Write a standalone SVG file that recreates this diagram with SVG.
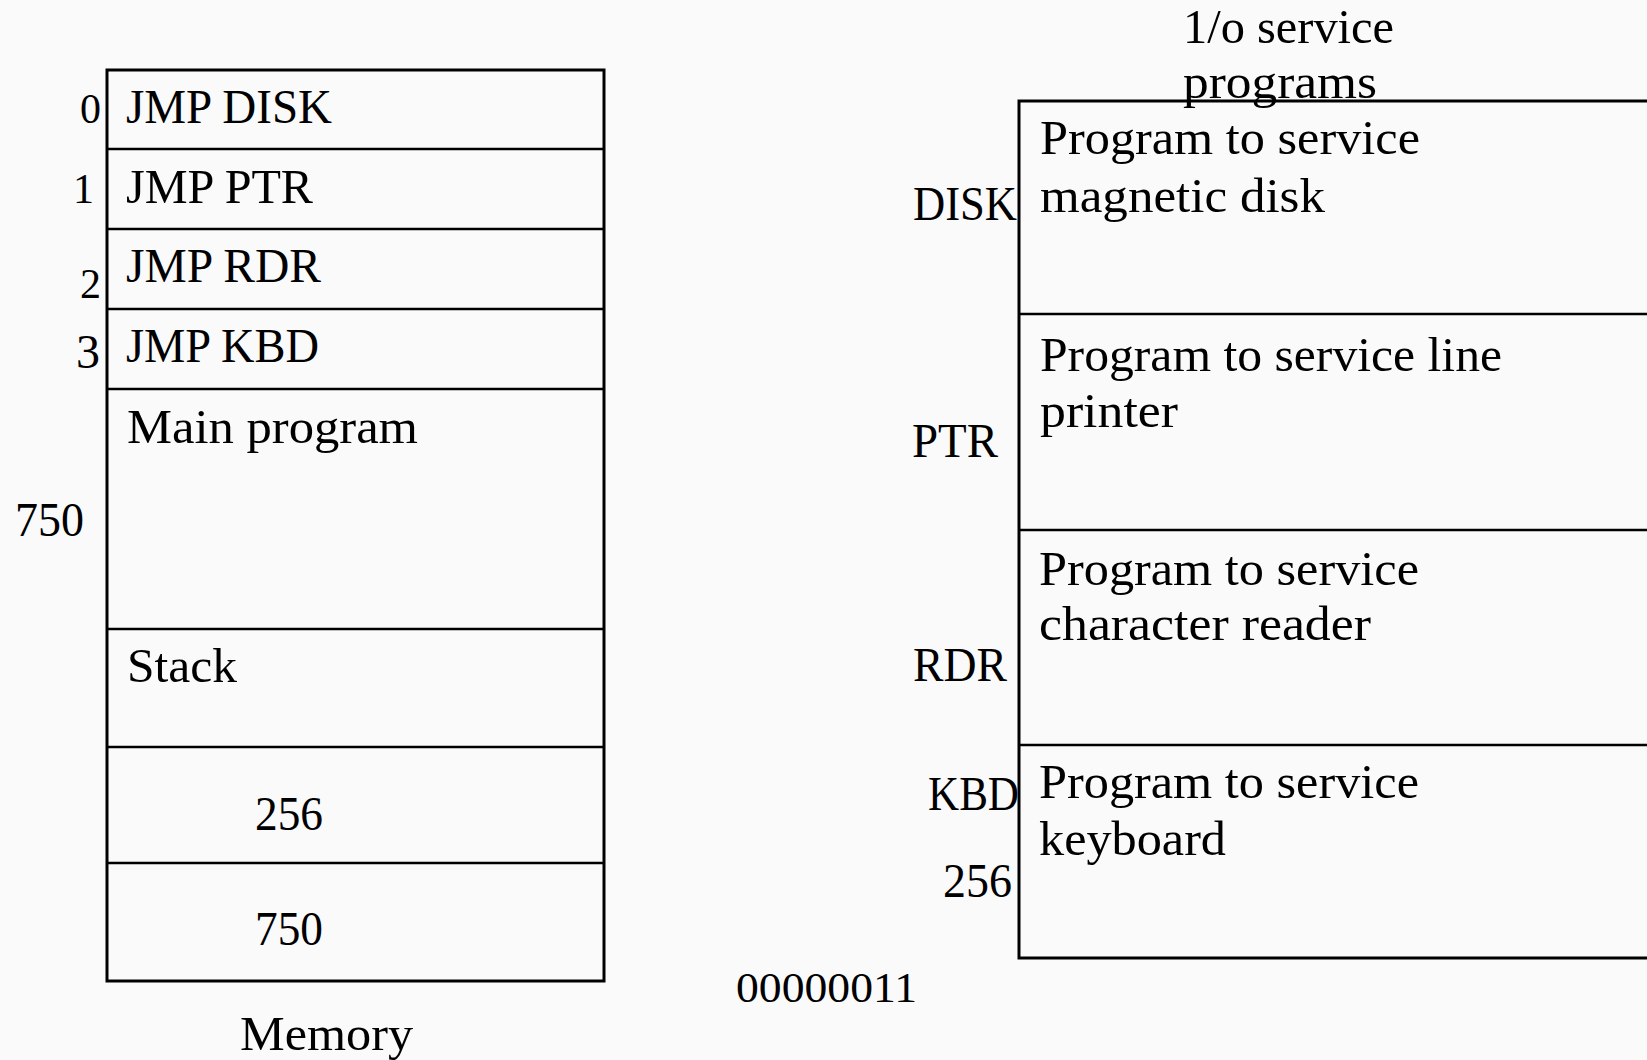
<svg xmlns="http://www.w3.org/2000/svg" width="1647" height="1060" viewBox="0 0 1647 1060">
  <style>
    .bg { fill: #fafafa; }
    .box { fill: none; stroke: #000; stroke-width: 3; }
    .div { stroke: #000; stroke-width: 2.6; }
    text { font-family: "Liberation Serif", "DejaVu Serif", serif; font-size: 48px; fill: #000; }
    .num { font-size: 42px; }
    .end { text-anchor: end; }
  </style>
  <rect class="bg" x="0" y="0" width="1647" height="1060"/>

  <!-- Memory map: vector table, main program and stack -->
  <g id="memory">
    <rect class="box" x="107" y="70" width="497" height="911"/>
    <line class="div" x1="107" y1="149" x2="604" y2="149"/>
    <line class="div" x1="107" y1="229" x2="604" y2="229"/>
    <line class="div" x1="107" y1="309" x2="604" y2="309"/>
    <line class="div" x1="107" y1="389" x2="604" y2="389"/>
    <line class="div" x1="107" y1="629" x2="604" y2="629"/>
    <line class="div" x1="107" y1="747" x2="604" y2="747"/>
    <line class="div" x1="107" y1="863" x2="604" y2="863"/>
  </g>
  <g id="vector-0">
    <text class="num end" x="101" y="123">0</text>
    <text x="126" y="123" textLength="206" lengthAdjust="spacingAndGlyphs">JMP DISK</text>
  </g>
  <g id="vector-1">
    <text class="num end" x="94" y="203">1</text>
    <text x="126" y="203" textLength="187" lengthAdjust="spacingAndGlyphs">JMP PTR</text>
  </g>
  <g id="vector-2">
    <text class="num end" x="101" y="298">2</text>
    <text x="126" y="282" textLength="195" lengthAdjust="spacingAndGlyphs">JMP RDR</text>
  </g>
  <g id="vector-3">
    <text class="end" x="100" y="368">3</text>
    <text x="126" y="362" textLength="193" lengthAdjust="spacingAndGlyphs">JMP KBD</text>
  </g>
  <g id="main-program">
    <text x="127" y="443" textLength="291" lengthAdjust="spacingAndGlyphs">Main program</text>
    <text x="15" y="536" textLength="69" lengthAdjust="spacingAndGlyphs">750</text>
  </g>
  <g id="stack">
    <text x="127" y="682" textLength="110" lengthAdjust="spacingAndGlyphs">Stack</text>
  </g>
  <g id="cell-256">
    <text x="255" y="830" textLength="68" lengthAdjust="spacingAndGlyphs">256</text>
  </g>
  <g id="cell-750">
    <text x="255" y="945" textLength="68" lengthAdjust="spacingAndGlyphs">750</text>
  </g>
  <g id="memory-label">
    <text x="240" y="1050" textLength="173" lengthAdjust="spacingAndGlyphs">Memory</text>
  </g>

  <!-- I/O service programs -->
  <g id="service-programs">
    <rect class="box" x="1019" y="101" width="700" height="857"/>
    <line class="div" x1="1019" y1="314" x2="1700" y2="314"/>
    <line class="div" x1="1019" y1="530" x2="1700" y2="530"/>
    <line class="div" x1="1019" y1="745" x2="1700" y2="745"/>
    <text x="1183" y="43" textLength="211" lengthAdjust="spacingAndGlyphs">1/o service</text>
    <text x="1183" y="98" textLength="194" lengthAdjust="spacingAndGlyphs">programs</text>
  </g>
  <g id="disk-service">
    <text class="end" x="1017" y="220" textLength="104" lengthAdjust="spacingAndGlyphs">DISK</text>
    <text x="1040" y="154" textLength="380" lengthAdjust="spacingAndGlyphs">Program to service</text>
    <text x="1040" y="212" textLength="285" lengthAdjust="spacingAndGlyphs">magnetic disk</text>
  </g>
  <g id="printer-service">
    <text x="912" y="457" textLength="86" lengthAdjust="spacingAndGlyphs">PTR</text>
    <text x="1040" y="371" textLength="462" lengthAdjust="spacingAndGlyphs">Program to service line</text>
    <text x="1040" y="427" textLength="138" lengthAdjust="spacingAndGlyphs">printer</text>
  </g>
  <g id="reader-service">
    <text x="913" y="681" textLength="94" lengthAdjust="spacingAndGlyphs">RDR</text>
    <text x="1039" y="585" textLength="380" lengthAdjust="spacingAndGlyphs">Program to service</text>
    <text x="1039" y="640" textLength="332" lengthAdjust="spacingAndGlyphs">character reader</text>
  </g>
  <g id="keyboard-service">
    <text x="928" y="810" textLength="91" lengthAdjust="spacingAndGlyphs">KBD</text>
    <text x="1039" y="798" textLength="380" lengthAdjust="spacingAndGlyphs">Program to service</text>
    <text x="1039" y="855" textLength="187" lengthAdjust="spacingAndGlyphs">keyboard</text>
    <text x="943" y="897" textLength="69" lengthAdjust="spacingAndGlyphs">256</text>
  </g>
  <g id="binary-code">
    <text class="num" x="736" y="1002" textLength="181" lengthAdjust="spacingAndGlyphs">00000011</text>
  </g>

  <!-- no connectors are drawn between the two maps -->
  <g id="connectors"/>
</svg>
